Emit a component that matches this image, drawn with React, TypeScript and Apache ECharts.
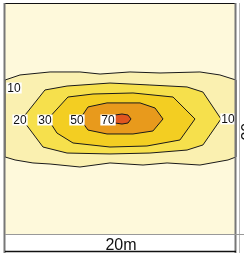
import React, { useEffect, useRef } from "react";
import * as echarts from "echarts";

// Contour levels and their fill colours (area above each level)
const levels = [10, 20, 30, 50, 70];
const levelColors = ["#FAF0B0", "#F6E04C", "#F3CE22", "#E89A1C", "#E0561F"];

// Contour outlines, [x metres, y metres]
const contour10: number[][] = [
  [0, 13.33], [1.3, 13.77], [3.9, 14.03], [6.49, 14.03], [8.23, 13.85], [10.82, 14.03],
  [13.42, 13.94], [16.88, 14.03], [18.61, 13.77], [20, 13.33],
  [20, 6.67], [19.31, 6.41], [16.88, 5.97], [14.03, 6.15], [11.95, 5.97], [9.09, 6.15],
  [6.49, 5.8], [3.9, 6.06], [2.42, 6.15], [0.87, 6.41], [0, 6.67],
];
const contour20: number[][] = [
  [1.47, 9.96], [3.46, 12.47], [5.37, 12.81], [9.09, 13.07], [12.55, 12.9], [15.76, 12.73],
  [17.14, 12.29], [18.7, 9.96], [17.14, 7.71], [15.76, 7.27], [12.55, 7.01], [9.09, 6.93],
  [5.37, 7.01], [3.29, 7.53],
];
const contour30: number[][] = [
  [3.72, 9.96], [5.45, 11.86], [7.62, 12.12], [11.08, 12.21], [14.55, 11.86], [16.45, 9.96],
  [15.15, 8.14], [12.29, 7.62], [9.09, 7.53], [5.89, 7.88], [4.5, 8.74],
];
const contour50: number[][] = [
  [6.49, 9.96], [7.19, 11.0], [8.83, 11.35], [11.69, 11.35], [12.99, 10.91], [13.68, 9.96],
  [12.81, 8.92], [11.08, 8.66], [8.83, 8.66], [7.19, 9.0],
];
const contour70: number[][] = [
  [9.18, 9.96], [9.52, 10.3], [10.13, 10.39], [10.65, 10.3], [10.91, 9.96],
  [10.65, 9.61], [10.13, 9.52], [9.52, 9.61],
];
const contours = [contour10, contour20, contour30, contour50, contour70];

// Contour labels
const labelTexts = ["10", "20", "30", "50", "70", "10"];
const labelX = [0.78, 1.3, 3.46, 6.23, 8.92, 19.31];
const labelY = [12.64, 9.87, 9.87, 9.87, 9.87, 9.96];

const scaleText = "20m";
const FONT = '"Liberation Sans", Arial, Helvetica, sans-serif';

export default function App() {
  const ref = useRef<HTMLDivElement>(null);
  useEffect(() => {
    if (!ref.current) return;
    const chart = echarts.init(ref.current, undefined, { renderer: "svg" });
    chart.setOption({
      animation: false,
      grid: {
        left: 5, top: 3, width: 231, height: 231,
        show: true, backgroundColor: "#FEF9DB", borderWidth: 0,
      },
      xAxis: { type: "value", min: 0, max: 20, show: false },
      yAxis: { type: "value", min: 0, max: 20, show: false },
      series: [
        {
          type: "custom",
          coordinateSystem: "cartesian2d",
          data: levels.map((l, i) => [i, l]),
          renderItem: (params: any, api: any) => {
            const i = params.dataIndex;
            const pts = contours[i].map((p) => api.coord(p));
            return {
              type: "polygon",
              shape: { points: pts },
              style: { fill: levelColors[i], stroke: "#1a1a1a", lineWidth: 1 },
            };
          },
          z: 2,
        },
        {
          type: "custom",
          coordinateSystem: "cartesian2d",
          data: labelX.map((x, i) => [x, labelY[i]]),
          renderItem: (params: any, api: any) => {
            const i = params.dataIndex;
            const pt = api.coord([api.value(0), api.value(1)]);
            return {
              type: "text",
              x: pt[0],
              y: pt[1],
              style: {
                text: labelTexts[i],
                fill: "#111",
                font: `12px ${FONT}`,
                align: "center",
                verticalAlign: "middle",
                backgroundColor: "#ffffff",
                padding: [0, 1],
                lineHeight: 11,
              },
            };
          },
          z: 3,
        },
      ],
      graphic: [
        { type: "rect", shape: { x: 5, y: 234, width: 231, height: 18 }, style: { fill: "#fff" }, z: 10 },
        { type: "line", shape: { x1: 5, y1: 3.5, x2: 236, y2: 3.5 }, style: { stroke: "#111", lineWidth: 1 }, z: 11 },
        { type: "line", shape: { x1: 4.5, y1: 3, x2: 4.5, y2: 253 }, style: { stroke: "#777", lineWidth: 2 }, z: 11 },
        { type: "line", shape: { x1: 235.5, y1: 3, x2: 235.5, y2: 253 }, style: { stroke: "#777", lineWidth: 2 }, z: 11 },
        { type: "line", shape: { x1: 239.5, y1: 3, x2: 239.5, y2: 253 }, style: { stroke: "#bbb", lineWidth: 1 }, z: 11 },
        { type: "line", shape: { x1: 5, y1: 234.5, x2: 244, y2: 234.5 }, style: { stroke: "#999", lineWidth: 1 }, z: 11 },
        { type: "line", shape: { x1: 5, y1: 251.5, x2: 236, y2: 251.5 }, style: { stroke: "#111", lineWidth: 1.5 }, z: 11 },
        {
          type: "text", x: 121, y: 244, z: 12,
          style: { text: scaleText, font: `16px ${FONT}`, fill: "#111", align: "center", verticalAlign: "middle" },
        },
        {
          type: "text", x: 247, y: 125, rotation: Math.PI / 2, z: 12,
          style: { text: scaleText, font: `16px ${FONT}`, fill: "#111", align: "center", verticalAlign: "middle" },
        },
      ],
    });
    return () => chart.dispose();
  }, []);
  return <div ref={ref} style={{ position: "fixed", left: 0, top: 0, width: 244, height: 253 }} />;
}
